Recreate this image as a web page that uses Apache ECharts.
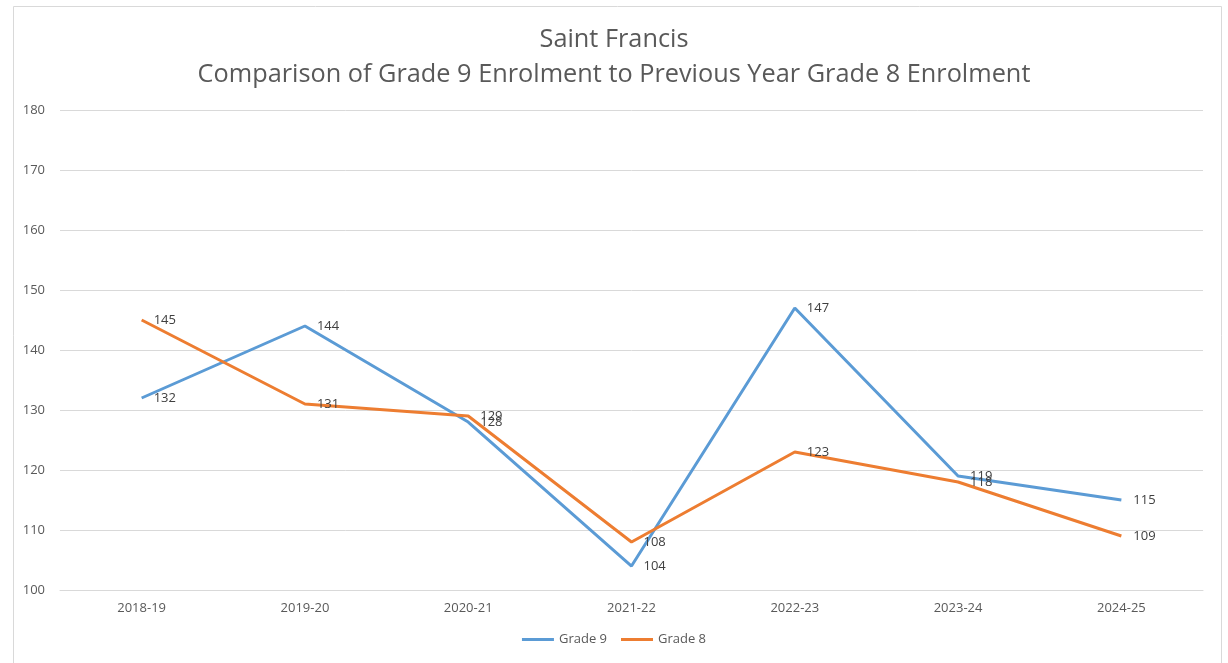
<!DOCTYPE html>
<html>
<head>
<meta charset="utf-8">
<script src="https://cdn.jsdelivr.net/npm/echarts@6/dist/echarts.min.js"></script>
<style>
  html, body { margin: 0; padding: 0; background: #fff; }
  #chart { width: 1228px; height: 663px; }
</style>
</head>
<body>
<div id="chart"></div>
<script>
const categories = ['2018-19', '2019-20', '2020-21', '2021-22', '2022-23', '2023-24', '2024-25']
const grade9 = [132, 144, 128, 104, 147, 119, 115]
const grade8 = [145, 131, 129, 108, 123, 118, 109]

const FONT = '"Open Sans", "Noto Sans", sans-serif'
const COLOR_G9 = '#5B9BD5'
const COLOR_G8 = '#ED7D31'

const chart = echarts.init(document.getElementById('chart'))

function lineSeries(name, data, color) {
  return {
    name: name,
    type: 'line',
    data: data,
    showSymbol: true,
    symbol: 'circle',
    symbolSize: 0,
    lineStyle: { color: color, width: 3 },
    itemStyle: { color: color },
    label: {
      show: true,
      position: 'right',
      distance: 12,
      offset: [0, 2],
      color: '#404040',
      fontSize: 13,
      fontFamily: FONT
    },
    labelLayout: { hideOverlap: false }
  }
}

chart.setOption({
  animation: false,
  title: {
    text: 'Saint Francis\nComparison of Grade 9 Enrolment to Previous Year Grade 8 Enrolment',
    left: 'center',
    top: 17,
    textStyle: {
      color: '#595959',
      fontSize: 25.3,
      fontWeight: 'normal',
      fontFamily: FONT,
      lineHeight: 35
    }
  },
  graphic: [{
    type: 'rect',
    shape: { x: 13.5, y: 6.5, width: 1208, height: 700 },
    style: { fill: 'none', stroke: '#d9d9d9', lineWidth: 1 },
    silent: true
  }],
  legend: {
    bottom: 12,
    left: 'center',
    itemWidth: 32,
    itemHeight: 3,
    itemGap: 14,
    icon: 'rect',
    textStyle: { color: '#595959', fontSize: 13, fontFamily: FONT },
    data: ['Grade 9', 'Grade 8']
  },
  grid: { left: 60, right: 25, top: 110, bottom: 73 },
  xAxis: {
    type: 'category',
    data: categories,
    axisLine: { lineStyle: { color: '#d9d9d9' } },
    axisTick: { show: false },
    axisLabel: { color: '#595959', fontSize: 13, fontFamily: FONT, margin: 12 }
  },
  yAxis: {
    type: 'value',
    min: 100,
    max: 180,
    interval: 10,
    axisLine: { show: false },
    axisTick: { show: false },
    splitLine: { lineStyle: { color: '#d9d9d9' } },
    axisLabel: { color: '#595959', fontSize: 13, fontFamily: FONT, margin: 15 }
  },
  series: [
    lineSeries('Grade 9', grade9, COLOR_G9),
    lineSeries('Grade 8', grade8, COLOR_G8)
  ]
})
</script>
</body>
</html>
